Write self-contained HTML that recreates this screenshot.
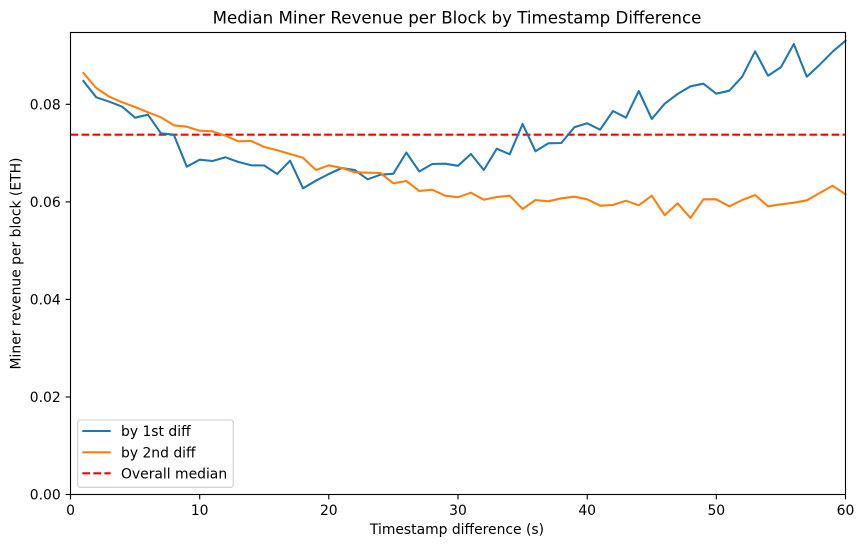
<!DOCTYPE html>
<html><head><meta charset="utf-8"><style>
html,body{margin:0;padding:0;background:#fff;}
svg{display:block;}
text{font-family:"DejaVu Sans","Liberation Sans",sans-serif;fill:#000;}
</style></head><body>
<svg width="863" height="547" viewBox="0 0 863 547" xmlns="http://www.w3.org/2000/svg">
<rect x="0" y="0" width="863" height="547" fill="#fff"/>
<!-- median line -->
<line x1="70.5" y1="134.7" x2="845.5" y2="134.7" stroke="#ff0000" stroke-width="2.08" stroke-dasharray="7.7,3.33"/>
<!-- blue -->
<polyline fill="none" stroke="#1f77b4" stroke-width="2.08" stroke-linejoin="round" stroke-linecap="square" points="83.4,81 96.3,97.3 109.3,101.7 122.2,106.7 135.1,117.7 148.0,114.7 160.9,133.3 173.8,134.7 186.8,166.7 199.7,159.7 212.6,161 225.5,157.3 238.4,162 251.3,165.3 264.3,165.5 277.2,174 290.1,160.7 303.0,188.3 315.9,180.7 328.8,174 341.8,168 354.7,170 367.6,179.3 380.5,174.7 393.4,173.7 406.3,152.5 419.3,171.5 432.2,164 445.1,163.7 458.0,165.8 470.9,154 483.8,170 496.8,148.7 509.7,154.3 522.6,124 535.5,151.3 548.4,143.3 561.3,143 574.3,127.3 587.2,123.3 600.1,129.7 613.0,111 625.9,117.7 638.8,91 651.8,119 664.7,103.7 677.6,94 690.5,86.3 703.4,83.7 716.3,93.7 729.3,90.7 742.2,76.7 755.1,51.3 768.0,75.7 780.9,67.3 793.8,44 806.8,76.7 819.7,64.7 832.6,51.7 845.5,40.7"/>
<!-- orange -->
<polyline fill="none" stroke="#ff7f0e" stroke-width="2.08" stroke-linejoin="round" stroke-linecap="square" points="83.4,73 96.3,88 109.3,96.7 122.2,102.3 135.1,107 148.0,112.3 160.9,117.3 173.8,125.3 186.8,126.7 199.7,130.7 212.6,131.3 225.5,135.7 238.4,141.3 251.3,141 264.3,147 277.2,150.3 290.1,154 303.0,157.7 315.9,170 328.8,165.3 341.8,168 354.7,172.3 367.6,172.7 380.5,173 393.4,183.3 406.3,181 419.3,191 432.2,189.7 445.1,195.7 458.0,197.2 470.9,192.7 483.8,199.7 496.8,197 509.7,195.7 522.6,209 535.5,200 548.4,201.3 561.3,198.3 574.3,196.7 587.2,199.3 600.1,205.7 613.0,205 625.9,200.7 638.8,205.3 651.8,195.7 664.7,215.3 677.6,203.3 690.5,218 703.4,199.3 716.3,199.3 729.3,206.3 742.2,200 755.1,195 768.0,206.3 780.9,204.3 793.8,202.7 806.8,200.3 819.7,193 832.6,185.7 845.5,194.3"/>
<!-- axes frame -->
<rect x="70.5" y="32.5" width="775" height="462" fill="none" stroke="#000" stroke-width="1.11"/>
<!-- y ticks -->
<g stroke="#000" stroke-width="1.11">
<line x1="65.6" y1="494.5" x2="70.5" y2="494.5"/>
<line x1="65.6" y1="397.0" x2="70.5" y2="397.0"/>
<line x1="65.6" y1="299.4" x2="70.5" y2="299.4"/>
<line x1="65.6" y1="201.9" x2="70.5" y2="201.9"/>
<line x1="65.6" y1="104.3" x2="70.5" y2="104.3"/>
</g>
<g font-size="13.9" text-anchor="end">
<text x="60.7" y="499.5">0.00</text>
<text x="60.7" y="402.0">0.02</text>
<text x="60.7" y="304.4">0.04</text>
<text x="60.7" y="206.9">0.06</text>
<text x="60.7" y="109.3">0.08</text>
</g>
<!-- x ticks -->
<g stroke="#000" stroke-width="1.11">
<line x1="70.5" y1="494.5" x2="70.5" y2="499.4"/>
<line x1="199.7" y1="494.5" x2="199.7" y2="499.4"/>
<line x1="328.8" y1="494.5" x2="328.8" y2="499.4"/>
<line x1="458.0" y1="494.5" x2="458.0" y2="499.4"/>
<line x1="587.2" y1="494.5" x2="587.2" y2="499.4"/>
<line x1="716.3" y1="494.5" x2="716.3" y2="499.4"/>
<line x1="845.5" y1="494.5" x2="845.5" y2="499.4"/>
</g>
<g font-size="13.9" text-anchor="middle">
<text x="70.5" y="515">0</text>
<text x="199.7" y="515">10</text>
<text x="328.8" y="515">20</text>
<text x="458.0" y="515">30</text>
<text x="587.2" y="515">40</text>
<text x="716.3" y="515">50</text>
<text x="845.5" y="515">60</text>
</g>
<!-- labels -->
<text x="457" y="534" font-size="13.9" text-anchor="middle">Timestamp difference (s)</text>
<text transform="translate(20.5,263.5) rotate(-90)" font-size="13.9" text-anchor="middle">Miner revenue per block (ETH)</text>
<text x="457" y="23.5" font-size="16.67" text-anchor="middle">Median Miner Revenue per Block by Timestamp Difference</text>
<!-- legend -->
<rect x="77.7" y="420" width="155.6" height="67.3" rx="2.8" fill="#fff" fill-opacity="0.8" stroke="#cccccc" stroke-width="1.11"/>
<line x1="82.3" y1="431" x2="110.7" y2="431" stroke="#1f77b4" stroke-width="2.08"/>
<line x1="82.3" y1="452.3" x2="110.7" y2="452.3" stroke="#ff7f0e" stroke-width="2.08"/>
<line x1="82.3" y1="473.3" x2="110.7" y2="473.3" stroke="#ff0000" stroke-width="2.08" stroke-dasharray="7.7,3.33"/>
<g font-size="13.9">
<text x="121" y="436">by 1st diff</text>
<text x="121" y="457.3">by 2nd diff</text>
<text x="121" y="478.3">Overall median</text>
</g>
</svg>
</body></html>
